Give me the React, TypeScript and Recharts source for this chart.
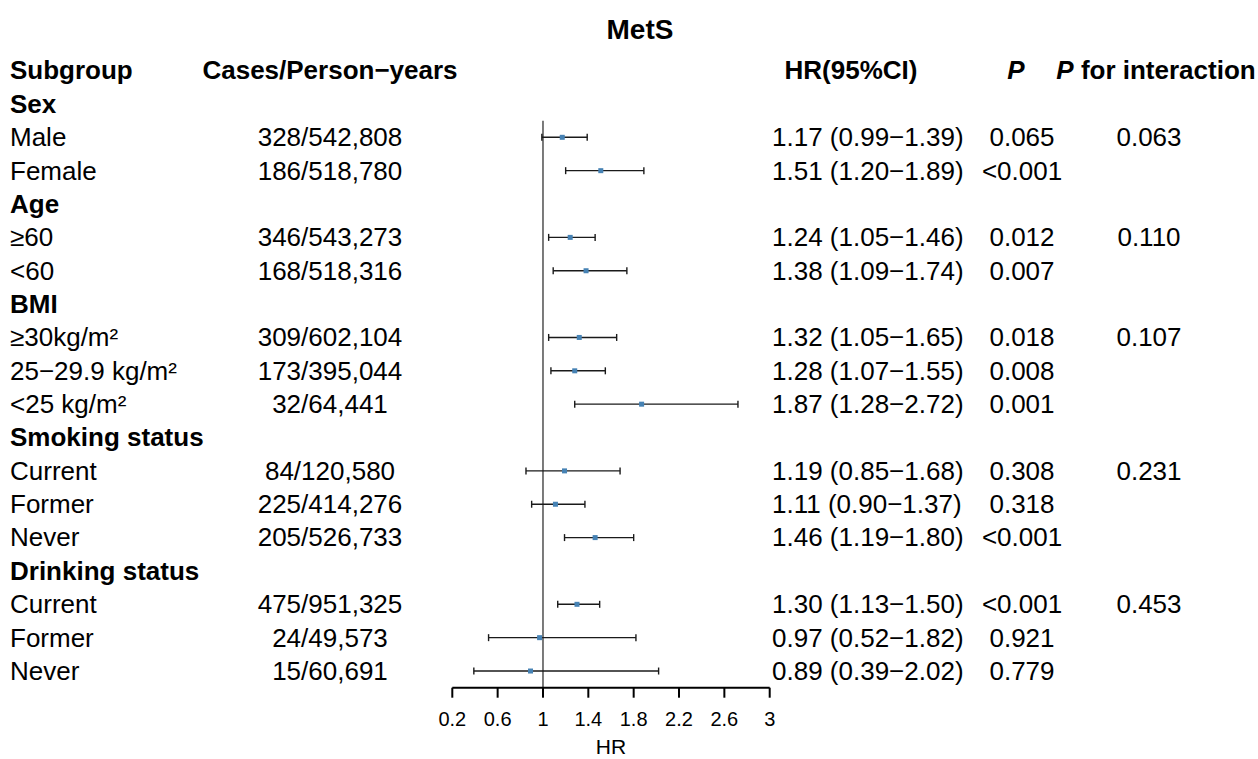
import React from 'react';
import { ComposedChart, Scatter, XAxis, YAxis, ErrorBar, ReferenceLine } from 'recharts';

// ---------- data ----------
const title = 'MetS';
const columnHeaders = ['Subgroup', 'Cases/Person\u2212years', 'HR(95%CI)', 'P', 'P for interaction'];
const rowLabels = [
  'Sex', 'Male', 'Female',
  'Age', '\u226560', '<60',
  'BMI', '\u226530kg/m\u00b2', '25\u221229.9 kg/m\u00b2', '<25 kg/m\u00b2',
  'Smoking status', 'Current', 'Former', 'Never',
  'Drinking status', 'Current', 'Former', 'Never',
];
const isSection = [
  true, false, false,
  true, false, false,
  true, false, false, false,
  true, false, false, false,
  true, false, false, false,
];
const cases = [
  null, '328/542,808', '186/518,780',
  null, '346/543,273', '168/518,316',
  null, '309/602,104', '173/395,044', '32/64,441',
  null, '84/120,580', '225/414,276', '205/526,733',
  null, '475/951,325', '24/49,573', '15/60,691',
];
const hr = [
  null, 1.17, 1.51,
  null, 1.24, 1.38,
  null, 1.32, 1.28, 1.87,
  null, 1.19, 1.11, 1.46,
  null, 1.30, 0.97, 0.89,
];
const lower = [
  null, 0.99, 1.20,
  null, 1.05, 1.09,
  null, 1.05, 1.07, 1.28,
  null, 0.85, 0.90, 1.19,
  null, 1.13, 0.52, 0.39,
];
const upper = [
  null, 1.39, 1.89,
  null, 1.46, 1.74,
  null, 1.65, 1.55, 2.72,
  null, 1.68, 1.37, 1.80,
  null, 1.50, 1.82, 2.02,
];
const pValues = [
  null, '0.065', '<0.001',
  null, '0.012', '0.007',
  null, '0.018', '0.008', '0.001',
  null, '0.308', '0.318', '<0.001',
  null, '<0.001', '0.921', '0.779',
];
const pInteraction = [
  null, '0.063', null,
  null, '0.110', null,
  null, '0.107', null, null,
  null, '0.231', null, null,
  null, '0.453', null, null,
];
const xTicks = [0.2, 0.6, 1, 1.4, 1.8, 2.2, 2.6, 3];
const xLabel = 'HR';

// ---------- derived ----------
const rowIndices = [0, ...rowLabels.map((_, i) => i + 1)];
const textRows = rowIndices.map((r) => ({ row: r, hr: 1 }));
const points = hr
  .map((v, i) =>
    v == null
      ? null
      : {
          row: i + 1,
          hr: v,
          err: [+(v - (lower[i] as number)).toFixed(2), +((upper[i] as number) - v).toFixed(2)],
        }
  )
  .filter(Boolean) as { row: number; hr: number; err: number[] }[];

const fmt = (v: number) => v.toFixed(2);

// ---------- layout / style ----------
const FONT = '"Liberation Sans", Arial, Helvetica, sans-serif';
const FS = 26;
const COL_SUB = 10;
const COL_CASES = 330;
const COL_HR = 772;
const COL_HR_HEAD = 851;
const COL_P = 1022;
const COL_P_HEAD = 1016;
const COL_PINT = 1149;
const COL_PINT_HEAD = 1156;

const RowText = (props: any) => {
  const { cy, payload } = props;
  const y = cy - 0.5;
  const r = payload.row as number;
  const common = { fontFamily: FONT, fontSize: FS, fill: '#000', dy: '0.36em' } as any;
  if (r === 0) {
    return (
      <g>
        <text {...common} x={COL_SUB} y={y} fontWeight="bold" textAnchor="start">{columnHeaders[0]}</text>
        <text {...common} x={COL_CASES} y={y} fontWeight="bold" textAnchor="middle">{columnHeaders[1]}</text>
        <text {...common} x={COL_HR_HEAD} y={y} fontWeight="bold" textAnchor="middle">{columnHeaders[2]}</text>
        <text {...common} x={COL_P_HEAD} y={y} fontWeight="bold" fontStyle="italic" textAnchor="middle">{columnHeaders[3]}</text>
        <text {...common} x={COL_PINT_HEAD} y={y} fontWeight="bold" textAnchor="middle">
          <tspan fontStyle="italic">P</tspan>
          <tspan>{columnHeaders[4].slice(1)}</tspan>
        </text>
      </g>
    );
  }
  const i = r - 1;
  if (isSection[i]) {
    return (
      <text {...common} x={COL_SUB} y={y} fontWeight="bold" textAnchor="start">{rowLabels[i]}</text>
    );
  }
  return (
    <g>
      <text {...common} x={COL_SUB} y={y} textAnchor="start">{rowLabels[i]}</text>
      <text {...common} x={COL_CASES} y={y} textAnchor="middle">{cases[i]}</text>
      <text {...common} x={COL_HR} y={y} textAnchor="start">
        {`${fmt(hr[i] as number)} (${fmt(lower[i] as number)}\u2212${fmt(upper[i] as number)})`}
      </text>
      <text {...common} x={COL_P} y={y} textAnchor="middle">{pValues[i]}</text>
      {pInteraction[i] && (
        <text {...common} x={COL_PINT} y={y} textAnchor="middle">{pInteraction[i]}</text>
      )}
    </g>
  );
};

const XTick = (props: any) => {
  const { x, y, payload } = props;
  return (
    <text x={x} y={y} dy="0.71em" textAnchor="middle" fontFamily={FONT} fontSize={20} fill="#000">
      {String(payload.value)}
    </text>
  );
};

const XLabel = (props: any) => {
  const vb = props.viewBox || {};
  return (
    <text x={vb.x + vb.width / 2} y={vb.y + 66} textAnchor="middle" fontFamily={FONT} fontSize={21} fill="#000">
      {xLabel}
    </text>
  );
};

const Marker = (props: any) => {
  const { cx, cy } = props;
  return <rect x={cx - 2.5} y={cy - 2.5} width={5} height={5} fill="#4682B4" />;
};

export default function App() {
  return (
    <div style={{ position: 'absolute', left: 0, top: 0, width: 1258, height: 759, background: '#fff' }}>
      <div
        style={{
          position: 'absolute',
          left: 540,
          top: 16,
          width: 200,
          textAlign: 'center',
          fontFamily: FONT,
          fontWeight: 'bold',
          fontSize: 28,
          lineHeight: '28px',
          color: '#000',
        }}
      >
        {title}
      </div>
      <ComposedChart
        width={1258}
        height={759}
        data={points}
        margin={{ top: 70.6, right: 488.3, bottom: 31.3, left: 452.3 }}
      >
        <XAxis
          type="number"
          dataKey="hr"
          domain={[0.2, 3]}
          ticks={xTicks}
          interval={0}
          height={40}
          tickSize={10}
          tickMargin={14}
          axisLine={{ stroke: '#000', strokeWidth: 2 }}
          tickLine={{ stroke: '#000', strokeWidth: 2 }}
          tick={<XTick />}
          label={<XLabel />}
        />
        <YAxis type="number" dataKey="row" domain={[0, 18.5]} reversed hide />
        <ReferenceLine
          segment={[{ x: 1, y: 1.5 }, { x: 1, y: 18.5 }]}
          stroke="#5a5a5a"
          strokeWidth={1.6}
        />
        <Scatter data={textRows} isAnimationActive={false} shape={<RowText />} />
        <Scatter data={points} isAnimationActive={false} shape={<Marker />}>
          <ErrorBar dataKey="err" direction="x" width={3.5} stroke="#1a1a1a" strokeWidth={1.4} isAnimationActive={false} />
        </Scatter>
      </ComposedChart>
    </div>
  );
}
